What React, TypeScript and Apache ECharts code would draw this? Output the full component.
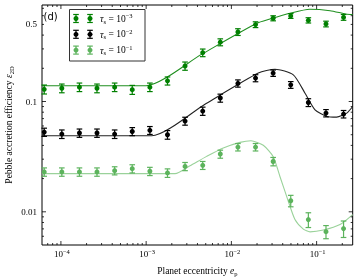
import React, { useEffect, useRef } from 'react';
import * as echarts from 'echarts';

// ---- data ----
const ecc = [6.37e-5, 1.025e-4, 1.65e-4, 2.65e-4, 4.27e-4, 6.87e-4, 1.106e-3, 1.78e-3, 2.86e-3, 4.61e-3, 7.41e-3, 0.01193, 0.0192, 0.0309, 0.0497, 0.08, 0.1288, 0.207];

const effTau3 = [0.129, 0.132, 0.135, 0.132, 0.135, 0.128, 0.135, 0.154, 0.21, 0.277, 0.345, 0.427, 0.498, 0.569, 0.597, 0.545, 0.505, 0.58];
const errTau3 = [0.012, 0.012, 0.012, 0.012, 0.012, 0.012, 0.012, 0.013, 0.018, 0.022, 0.025, 0.03, 0.03, 0.03, 0.03, 0.03, 0.03, 0.035];

const effTau2 = [0.0528, 0.0507, 0.0518, 0.0518, 0.0507, 0.0535, 0.0548, 0.05, 0.0665, 0.0819, 0.1076, 0.146, 0.163, 0.181, 0.1416, 0.098, 0.0785, 0.0769];
const errTau2 = [0.0045, 0.0045, 0.0045, 0.0045, 0.0045, 0.0045, 0.0045, 0.0045, 0.0055, 0.007, 0.009, 0.011, 0.012, 0.012, 0.01, 0.008, 0.006, 0.006];

const effTau1 = [0.023, 0.023, 0.023, 0.023, 0.0236, 0.0246, 0.0233, 0.0225, 0.0258, 0.0264, 0.0334, 0.0386, 0.0386, 0.0286, 0.0126, 0.0085, 0.0066, 0.00705];
const errTau1 = [0.002, 0.002, 0.002, 0.002, 0.002, 0.0021, 0.002, 0.002, 0.0022, 0.0022, 0.0028, 0.003, 0.003, 0.0025, 0.0015, 0.0013, 0.0009, 0.0012];

const modelEccTau3 = [6e-5, 1.0e-3, 4.5e-3, 0.0198, 0.0284, 0.0487, 0.083, 0.1437, 0.22, 0.265];
const modelTau3 = [0.139, 0.139, 0.269, 0.512, 0.56, 0.631, 0.686, 0.666, 0.622, 0.615];

const modelEccTau2 = [6e-5, 1.16e-3, 5.0e-3, 0.0207, 0.0325, 0.0533, 0.0731, 0.0958, 0.1315, 0.172, 0.2255, 0.265];
const modelTau2 = [0.0489, 0.0489, 0.0955, 0.181, 0.1964, 0.1744, 0.119, 0.0841, 0.0732, 0.0722, 0.0785, 0.0901];

const modelEccTau1 = [6e-5, 2.18e-3, 3.27e-3, 5.13e-3, 8.03e-3, 0.01262, 0.01698, 0.02367, 0.031, 0.0372, 0.0446, 0.0557, 0.0698, 0.0837, 0.12, 0.188, 0.265];
const modelTau1 = [0.0222, 0.0222, 0.0262, 0.0318, 0.0379, 0.0426, 0.0441, 0.0401, 0.0316, 0.0208, 0.01374, 0.0085, 0.00697, 0.00658, 0.00683, 0.00766, 0.00944];

const stokesExps = ['−3', '−2', '−1'];

const xMajorTicks = [1e-4, 1e-3, 1e-2, 1e-1];
const xTickExps = ['−4', '−3', '−2', '−1'];
const yMajorTicks = [0.01, 0.1];
const yLabelValues = [0.01, 0.1, 0.5];
const yLabels = ['0.01', '0.1', '0.5'];

const X_MIN = 6e-5, X_MAX = 0.265, Y_MIN = 0.005, Y_MAX = 0.75;

const C3 = '#008000', C3L = '#1f8f1f';
const C2 = '#000000', C2L = '#222222';
const C1 = '#5cb35c', C1L = '#9ad29a';

const SERIF = '"Liberation Serif", "DejaVu Serif", serif';

function minorTicks(lo: number, hi: number, majors: number[]) {
  const out: number[] = [];
  for (let e = -6; e <= 0; e++) {
    for (let m = 2; m <= 9; m++) {
      const v = m * Math.pow(10, e);
      if (v > lo * 1.0001 && v < hi * 0.9999 && majors.indexOf(v) < 0) out.push(v);
    }
  }
  return out;
}

function errSeries(name: string, color: string, ys: number[], errs: number[]) {
  return {
    type: 'custom',
    name,
    z: 5,
    clip: false,
    dimensions: ['x', 'y', 'lo', 'hi'],
    encode: { x: 0, y: 1 },
    data: ecc.map((x, i) => [x, ys[i], ys[i] - errs[i], ys[i] + errs[i]]),
    renderItem: (params: any, api: any) => {
      const x = api.value(0);
      const c = api.coord([x, api.value(1)]);
      const lo = api.coord([x, api.value(2)]);
      const hi = api.coord([x, api.value(3)]);
      const cw = 2.8;
      const st = { stroke: color, lineWidth: 1.2 };
      return {
        type: 'group',
        children: [
          { type: 'line', shape: { x1: c[0], y1: lo[1], x2: c[0], y2: hi[1] }, style: st },
          { type: 'line', shape: { x1: c[0] - cw, y1: lo[1], x2: c[0] + cw, y2: lo[1] }, style: st },
          { type: 'line', shape: { x1: c[0] - cw, y1: hi[1], x2: c[0] + cw, y2: hi[1] }, style: st },
          { type: 'circle', shape: { cx: c[0], cy: c[1], r: 2.5 }, style: { fill: color } },
        ],
      };
    },
  };
}

function lineSeries(name: string, color: string, xs: number[], ys: number[]) {
  return {
    type: 'line',
    name,
    z: 3,
    data: xs.map((x, i) => [x, ys[i]]),
    showSymbol: false,
    smooth: 0.22,
    lineStyle: { color, width: 1.1 },
    silent: true,
  };
}

function legendMarker(x: number, cy: number, color: string) {
  const st = { stroke: color, lineWidth: 1.2 };
  return [
    { type: 'line', shape: { x1: x, y1: cy - 4, x2: x, y2: cy + 4 }, style: st },
    { type: 'line', shape: { x1: x - 2.8, y1: cy - 4, x2: x + 2.8, y2: cy - 4 }, style: st },
    { type: 'line', shape: { x1: x - 2.8, y1: cy + 4, x2: x + 2.8, y2: cy + 4 }, style: st },
    { type: 'circle', shape: { cx: x, cy, r: 2.5 }, style: { fill: color } },
  ];
}

export default function App() {
  const ref = useRef<HTMLDivElement>(null);
  useEffect(() => {
    if (!ref.current) return;
    const chart = echarts.init(ref.current, null, { renderer: 'svg' });

    const xTickData = [
      ...xMajorTicks.map((v) => [v, Y_MIN, 4]),
      ...minorTicks(X_MIN, X_MAX, xMajorTicks).map((v) => [v, Y_MIN, 2]),
    ];
    const yTickData = [
      ...yMajorTicks.map((v) => [X_MIN, v, 4]),
      ...minorTicks(Y_MIN, Y_MAX, yMajorTicks).map((v) => [X_MIN, v, 2]),
    ];
    const tickStyle = { stroke: '#000', lineWidth: 0.8 };

    const legendColors = [C3, C2, C1];
    const legendChildren: any[] = [
      { type: 'rect', shape: { x: 69.5, y: 9.5, width: 75.5, height: 51.5 }, style: { fill: '#fff', stroke: '#333', lineWidth: 1 } },
    ];
    stokesExps.forEach((ex, i) => {
      const cy = 18.5 + 15.8 * i;
      legendChildren.push(...legendMarker(76, cy, legendColors[i]));
      legendChildren.push(...legendMarker(90, cy, legendColors[i]));
      legendChildren.push({
        type: 'text',
        x: 100,
        y: cy,
        style: {
          text: '{it|τ}{sub|s} = 10{sup|' + ex + '}',
          fill: '#000',
          fontFamily: SERIF,
          fontSize: 9.5,
          textAlign: 'left',
          textVerticalAlign: 'middle',
          align: 'left',
          verticalAlign: 'middle',
          rich: {
            it: { fontFamily: SERIF, fontSize: 10, fontStyle: 'italic' },
            sub: { fontFamily: SERIF, fontSize: 6.5, padding: [5, 0, 0, 0] },
            sup: { fontFamily: SERIF, fontSize: 6.5, padding: [0, 0, 6, 0] },
          },
        },
      });
    });

    chart.setOption({
      animation: false,
      grid: {
        left: 42, right: 5.3, top: 5, bottom: 33,
        containLabel: false, outerBoundsMode: 'none',
        show: true, borderColor: '#000', borderWidth: 1, backgroundColor: 'transparent',
      },
      xAxis: {
        type: 'log',
        logBase: 10,
        min: X_MIN,
        max: X_MAX,
        axisLine: { show: false },
        axisTick: { show: false },
        axisLabel: { show: false },
        splitLine: { show: false },
        name: 'Planet eccentricity {it|e}{sub|p}',
        nameLocation: 'middle',
        nameGap: 20,
        nameTextStyle: {
          fontFamily: SERIF,
          fontSize: 9.5,
          color: '#000',
          rich: {
            it: { fontFamily: SERIF, fontSize: 9.5, fontStyle: 'italic', color: '#000' },
            sub: { fontFamily: SERIF, fontSize: 6.5, color: '#000', padding: [5, 0, 0, 0] },
          },
        },
      },
      yAxis: {
        type: 'log',
        logBase: 10,
        min: Y_MIN,
        max: Y_MAX,
        axisLine: { show: false },
        axisTick: { show: false },
        axisLabel: { show: false },
        splitLine: { show: false },
        name: 'Pebble accretion efficiency {it|ε}{sub|2D}',
        nameLocation: 'middle',
        nameGap: 27,
        nameRotate: 90,
        nameTextStyle: {
          fontFamily: SERIF,
          fontSize: 9.5,
          color: '#000',
          rich: {
            it: { fontFamily: SERIF, fontSize: 9.5, fontStyle: 'italic', color: '#000' },
            sub: { fontFamily: SERIF, fontSize: 6.5, color: '#000', padding: [5, 0, 0, 0] },
          },
        },
      },
      graphic: [
        {
          type: 'text',
          x: 43.5,
          y: 16.5,
          z: 10,
          style: { text: '(d)', fill: '#000', fontFamily: '"DejaVu Sans", sans-serif', fontSize: 10, textAlign: 'left', textVerticalAlign: 'middle', align: 'left', verticalAlign: 'middle' },
        },
        { type: 'group', z: 10, children: legendChildren },
      ],
      series: [
        lineSeries('model τs=1e-3', C3L, modelEccTau3, modelTau3),
        lineSeries('model τs=1e-2', C2L, modelEccTau2, modelTau2),
        lineSeries('model τs=1e-1', C1L, modelEccTau1, modelTau1),
        errSeries('τs=1e-3', C3, effTau3, errTau3),
        errSeries('τs=1e-2', C2, effTau2, errTau2),
        errSeries('τs=1e-1', C1, effTau1, errTau1),
        {
          type: 'custom',
          name: 'xticks',
          silent: true,
          clip: false,
          z: 6,
          dimensions: ['x', 'y', 'len'],
          encode: { x: 0, y: 1 },
          data: xTickData,
          renderItem: (params: any, api: any) => {
            const v = api.value(0);
            const len = api.value(2);
            const b = api.coord([v, Y_MIN]);
            const t = api.coord([v, Y_MAX]);
            return {
              type: 'group',
              children: [
                { type: 'line', shape: { x1: b[0], y1: b[1], x2: b[0], y2: b[1] - len }, style: tickStyle },
                { type: 'line', shape: { x1: t[0], y1: t[1], x2: t[0], y2: t[1] + len }, style: tickStyle },
              ],
            };
          },
        },
        {
          type: 'custom',
          name: 'yticks',
          silent: true,
          clip: false,
          z: 6,
          dimensions: ['x', 'y', 'len'],
          encode: { x: 0, y: 1 },
          data: yTickData,
          renderItem: (params: any, api: any) => {
            const v = api.value(1);
            const len = api.value(2);
            const l = api.coord([X_MIN, v]);
            const r = api.coord([X_MAX, v]);
            return {
              type: 'group',
              children: [
                { type: 'line', shape: { x1: l[0], y1: l[1], x2: l[0] + len, y2: l[1] }, style: tickStyle },
                { type: 'line', shape: { x1: r[0], y1: r[1], x2: r[0] - len, y2: r[1] }, style: tickStyle },
              ],
            };
          },
        },
        {
          type: 'custom',
          name: 'xlabels',
          silent: true,
          clip: false,
          z: 6,
          dimensions: ['x', 'y', 'i'],
          encode: { x: 0, y: 1 },
          data: xMajorTicks.map((v, i) => [v, Y_MIN, i]),
          renderItem: (params: any, api: any) => {
            const i = api.value(2);
            const b = api.coord([api.value(0), Y_MIN]);
            return {
              type: 'text',
              x: b[0] + 1,
              y: b[1] + 9,
              style: {
                text: '10{sup|' + xTickExps[i] + '}',
                fill: '#000',
                fontFamily: SERIF,
                fontSize: 9,
                textAlign: 'center',
                textVerticalAlign: 'middle',
                align: 'center',
                verticalAlign: 'middle',
                rich: { sup: { fontFamily: SERIF, fontSize: 6.5, padding: [0, 0, 6, 0] } },
              },
            };
          },
        },
        {
          type: 'custom',
          name: 'ylabels',
          silent: true,
          clip: false,
          z: 6,
          dimensions: ['x', 'y', 'i'],
          encode: { x: 0, y: 1 },
          data: yLabelValues.map((v, i) => [X_MIN, v, i]),
          renderItem: (params: any, api: any) => {
            const i = api.value(2);
            const l = api.coord([X_MIN, api.value(1)]);
            return {
              type: 'text',
              x: l[0] - 5,
              y: l[1],
              style: {
                text: yLabels[i],
                fill: '#000',
                fontFamily: SERIF,
                fontSize: 9,
                textAlign: 'right',
                textVerticalAlign: 'middle',
                align: 'right',
                verticalAlign: 'middle',
              },
            };
          },
        },
      ],
    });
    return () => chart.dispose();
  }, []);
  return <div ref={ref} style={{ position: 'fixed', left: 0, top: 0, width: 358, height: 278 }} />;
}
